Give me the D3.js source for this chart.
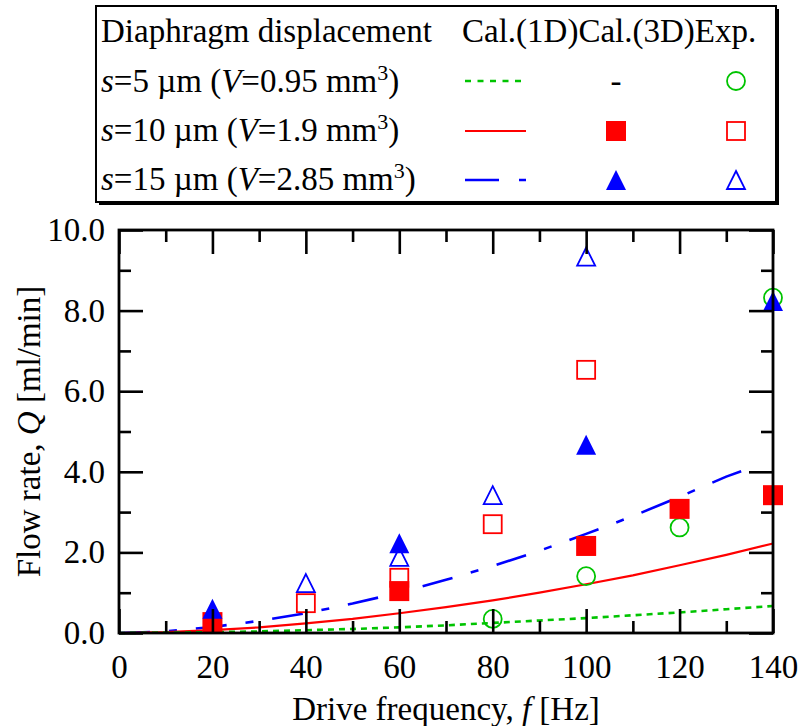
<!DOCTYPE html>
<html>
<head>
<meta charset="utf-8">
<script src="https://cdn.jsdelivr.net/npm/d3@7/dist/d3.min.js"></script>
<style>
  html, body { margin: 0; padding: 0; background: #fff; }
  svg { display: block; }
  text { font-family: "Liberation Serif", "Times New Roman", serif; fill: #000; }
</style>
</head>
<body>
<svg id="chart" width="801" height="726"></svg>
<script>
// Drive frequency grid for the 1D calculation curves [Hz]
const freqCal = [0, 10, 20, 30, 40, 50, 60, 70, 80, 90, 100, 110, 120, 130, 140];
const freqCal15 = [0, 10, 20, 30, 40, 50, 60, 70, 80, 90, 100, 110, 120, 130, 136];

// Cal.(1D) flow rate [ml/min]
const cal1D_s5  = [0, 0.01, 0.02, 0.04, 0.07, 0.10, 0.14, 0.19, 0.25, 0.31, 0.37, 0.44, 0.51, 0.59, 0.67];
const cal1D_s10 = [0, 0.02, 0.07, 0.14, 0.24, 0.35, 0.49, 0.64, 0.81, 1.00, 1.21, 1.43, 1.68, 1.94, 2.22];
const cal1D_s15 = [0, 0.04, 0.15, 0.30, 0.49, 0.73, 1.00, 1.32, 1.66, 2.04, 2.46, 2.90, 3.38, 3.88, 4.13];

// Cal.(3D) flow rate [ml/min]
const cal3D_s10_f = [20, 60, 100, 120, 140];
const cal3D_s10_q = [0.27, 1.04, 2.16, 3.08, 3.42];
const cal3D_s15_f = [20, 60, 100, 140];
const cal3D_s15_q = [0.60, 2.23, 4.67, 8.24];

// Experimental flow rate [ml/min]
const exp_s5_f  = [80, 100, 120, 140];
const exp_s5_q  = [0.35, 1.41, 2.62, 8.32];
const exp_s10_f = [40, 60, 80, 100];
const exp_s10_q = [0.74, 1.37, 2.70, 6.53];
const exp_s15_f = [40, 60, 80, 100];
const exp_s15_q = [1.24, 1.89, 3.42, 9.34];

// Axis ticks
const xMajor = [0, 20, 40, 60, 80, 100, 120, 140];
const xMinor = [10, 30, 50, 70, 90, 110, 130];
const yMajor = [0, 2, 4, 6, 8, 10];
const yMinor = [1, 3, 5, 7, 9];

// Legend rows
const legendRows = [
  { s: "5",  v: "0.95" },
  { s: "10", v: "1.9" },
  { s: "15", v: "2.85" }
];

const GREEN = "#00c400", RED = "#ff0000", BLUE = "#0000ff";

const svg = d3.select("#chart");
const L = 119, R = 773, T = 230, B = 633;
const x = d3.scaleLinear().domain([0, 140]).range([L, R]);
const y = d3.scaleLinear().domain([0, 10]).range([B, T]);

const FS = 33;

// ---- curves ----
const line = d3.line().x(d => x(d[0])).y(d => y(d[1]));
const plot = svg.append("g");
plot.append("path").datum(d3.zip(freqCal15, cal1D_s15))
  .attr("d", line).attr("fill", "none").attr("stroke", BLUE)
  .attr("stroke-width", 2.6).attr("stroke-dasharray", "31,19,8,19");
plot.append("path").datum(d3.zip(freqCal, cal1D_s10))
  .attr("d", line).attr("fill", "none").attr("stroke", RED)
  .attr("stroke-width", 2.2);
plot.append("path").datum(d3.zip(freqCal, cal1D_s5))
  .attr("d", line).attr("fill", "none").attr("stroke", GREEN)
  .attr("stroke-width", 2.6).attr("stroke-dasharray", "6,5");

// ---- markers ----
const M = 20; // marker size in px
const tri = d3.symbol().type(d3.symbolTriangle);
function triPath(size) {
  // upward triangle with bounding box size x size centred at 0,0
  const h = size / 2;
  return `M0,${-h}L${h},${h}L${-h},${h}Z`;
}
function circles(fs, qs, color) {
  plot.selectAll(null).data(d3.zip(fs, qs)).join("circle")
    .attr("cx", d => x(d[0])).attr("cy", d => y(d[1])).attr("r", M / 2 - 1)
    .attr("fill", "none").attr("stroke", color).attr("stroke-width", 1.8);
}
function squares(fs, qs, color, filled) {
  plot.selectAll(null).data(d3.zip(fs, qs)).join("rect")
    .attr("x", d => x(d[0]) - M / 2 + (filled ? 0 : 1))
    .attr("y", d => y(d[1]) - M / 2 + (filled ? 0 : 1))
    .attr("width", filled ? M : M - 2).attr("height", filled ? M : M - 2)
    .attr("fill", filled ? color : "none")
    .attr("stroke", filled ? "none" : color).attr("stroke-width", 1.8);
}
function triangles(fs, qs, color, filled) {
  plot.selectAll(null).data(d3.zip(fs, qs)).join("path")
    .attr("transform", d => `translate(${x(d[0])},${y(d[1])})`)
    .attr("d", triPath(filled ? M : M - 2))
    .attr("fill", filled ? color : "none")
    .attr("stroke", filled ? "none" : color).attr("stroke-width", 1.8)
    .attr("stroke-linejoin", "miter");
}
circles(exp_s5_f, exp_s5_q, GREEN);
squares(exp_s10_f, exp_s10_q, RED, false);
triangles(exp_s15_f, exp_s15_q, BLUE, false);
squares(cal3D_s10_f, cal3D_s10_q, RED, true);
triangles(cal3D_s15_f, cal3D_s15_q, BLUE, true);

// ---- axes ----
function styleAxis(g) {
  g.select(".domain").remove();
  g.selectAll(".tick line").attr("stroke", "#000").attr("stroke-width", 2.6);
  g.selectAll(".tick text").attr("font-size", FS).attr("font-family", "Liberation Serif");
}
const MAJ = 24, MIN = 12;
svg.append("g").attr("transform", `translate(0,${B})`)
  .call(d3.axisBottom(x).tickValues(xMajor).tickSize(-MAJ).tickPadding(22).tickFormat(d3.format("d")))
  .call(styleAxis);
svg.append("g").attr("transform", `translate(0,${B})`)
  .call(d3.axisBottom(x).tickValues(xMinor).tickSize(-MIN).tickFormat(""))
  .call(styleAxis);
svg.append("g").attr("transform", `translate(0,${T})`)
  .call(d3.axisTop(x).tickValues(xMajor).tickSize(-MAJ).tickFormat(""))
  .call(styleAxis);
svg.append("g").attr("transform", `translate(0,${T})`)
  .call(d3.axisTop(x).tickValues(xMinor).tickSize(-MIN).tickFormat(""))
  .call(styleAxis);
svg.append("g").attr("transform", `translate(${L},0)`)
  .call(d3.axisLeft(y).tickValues(yMajor).tickSize(-MAJ).tickPadding(14).tickFormat(d3.format(".1f")))
  .call(styleAxis);
svg.append("g").attr("transform", `translate(${L},0)`)
  .call(d3.axisLeft(y).tickValues(yMinor).tickSize(-MIN).tickFormat(""))
  .call(styleAxis);
svg.append("g").attr("transform", `translate(${R},0)`)
  .call(d3.axisRight(y).tickValues(yMajor).tickSize(-MAJ).tickFormat(""))
  .call(styleAxis);
svg.append("g").attr("transform", `translate(${R},0)`)
  .call(d3.axisRight(y).tickValues(yMinor).tickSize(-MIN).tickFormat(""))
  .call(styleAxis);

// plot frame
svg.append("rect").attr("x", L).attr("y", T).attr("width", R - L).attr("height", B - T)
  .attr("fill", "none").attr("stroke", "#000").attr("stroke-width", 2.8);

// axis titles
const xt = svg.append("text").attr("x", (L + R) / 2 - 0).attr("y", 720)
  .attr("text-anchor", "middle").attr("font-size", FS);
xt.append("tspan").text("Drive frequency, ");
xt.append("tspan").attr("font-style", "italic").text("f");
xt.append("tspan").text(" [Hz]");

const yt = svg.append("text").attr("transform", `translate(40,${(T + B) / 2}) rotate(-90)`)
  .attr("text-anchor", "middle").attr("font-size", FS);
yt.append("tspan").text("Flow rate, ");
yt.append("tspan").attr("font-style", "italic").text("Q");
yt.append("tspan").text(" [ml/min]");

// ---- legend ----
const lg = svg.append("g");
const LX = 96, LY = 6, LW = 680, LH = 196;
lg.append("rect").attr("x", LX + 3).attr("y", LY + 3).attr("width", LW).attr("height", LH)
  .attr("fill", "#000");
lg.append("rect").attr("x", LX).attr("y", LY).attr("width", LW).attr("height", LH)
  .attr("fill", "#fff").attr("stroke", "#000").attr("stroke-width", 2);

lg.append("text").attr("x", 101).attr("y", 42).attr("font-size", FS).text("Diaphragm displacement");
lg.append("text").attr("x", 462).attr("y", 42).attr("font-size", FS).text("Cal.(1D)Cal.(3D)Exp.");

const rowBase = [92, 141, 190];
const rowMid = [81, 131, 180];
legendRows.forEach((r, i) => {
  const t = lg.append("text").attr("x", 101).attr("y", rowBase[i]).attr("font-size", FS);
  t.append("tspan").attr("font-style", "italic").text("s");
  t.append("tspan").text(`=${r.s} \u00b5m (`);
  t.append("tspan").attr("font-style", "italic").text("V");
  t.append("tspan").text(`=${r.v} mm`);
  t.append("tspan").attr("font-size", 22).attr("dy", -12).text("3");
  t.append("tspan").attr("dy", 12).text(")");
});

const lx0 = 465, lx1 = 526, c3 = 616, ce = 736;
lg.append("line").attr("x1", lx0).attr("x2", lx1).attr("y1", rowMid[0]).attr("y2", rowMid[0])
  .attr("stroke", GREEN).attr("stroke-width", 2.6).attr("stroke-dasharray", "6,6.5");
lg.append("line").attr("x1", lx0).attr("x2", lx1).attr("y1", rowMid[1]).attr("y2", rowMid[1])
  .attr("stroke", RED).attr("stroke-width", 2.2);
lg.append("line").attr("x1", lx0).attr("x2", lx1).attr("y1", rowMid[2]).attr("y2", rowMid[2])
  .attr("stroke", BLUE).attr("stroke-width", 2.6).attr("stroke-dasharray", "34,20,8,20");

lg.append("text").attr("x", c3).attr("y", rowBase[0]).attr("text-anchor", "middle")
  .attr("font-size", FS).text("-");
lg.append("circle").attr("cx", ce).attr("cy", rowMid[0]).attr("r", M / 2 - 1)
  .attr("fill", "none").attr("stroke", GREEN).attr("stroke-width", 1.8);
lg.append("rect").attr("x", c3 - M / 2).attr("y", rowMid[1] - M / 2).attr("width", M).attr("height", M)
  .attr("fill", RED);
lg.append("rect").attr("x", ce - M / 2 + 1).attr("y", rowMid[1] - M / 2 + 1).attr("width", M - 2).attr("height", M - 2)
  .attr("fill", "none").attr("stroke", RED).attr("stroke-width", 1.8);
lg.append("path").attr("transform", `translate(${c3},${rowMid[2]})`).attr("d", triPath(M)).attr("fill", BLUE);
lg.append("path").attr("transform", `translate(${ce},${rowMid[2]})`).attr("d", triPath(M - 2))
  .attr("fill", "none").attr("stroke", BLUE).attr("stroke-width", 1.8);
</script>
</body>
</html>
